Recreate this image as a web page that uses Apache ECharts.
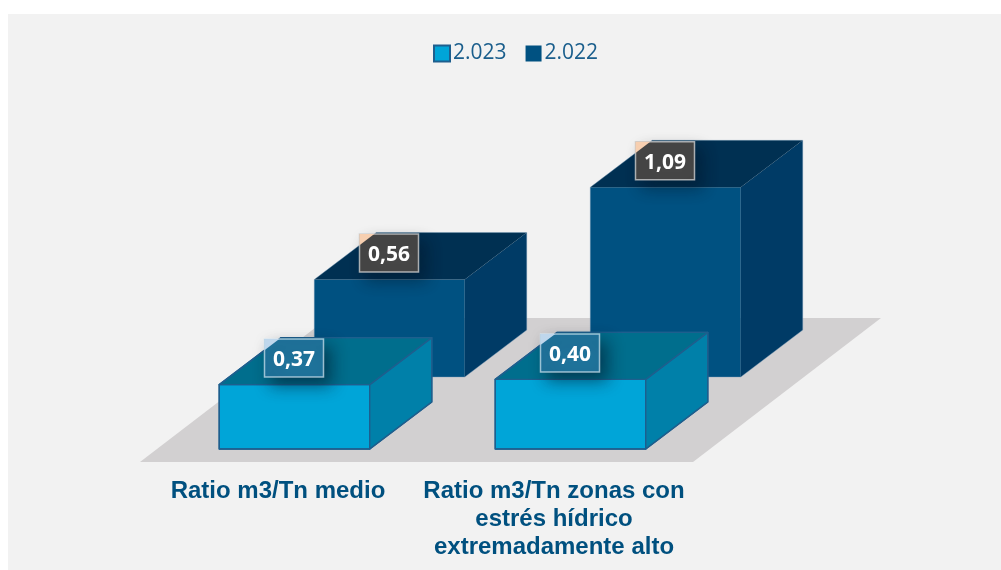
<!DOCTYPE html>
<html>
<head>
<meta charset="utf-8">
<style>html,body{margin:0;padding:0;background:#fff}#chart{width:1001px;height:570px}</style>
<script src="https://cdn.jsdelivr.net/npm/echarts@6/dist/echarts.min.js"></script>
</head>
<body>
<div id="chart"></div>
<script>
const categories = ['Ratio m3/Tn medio', 'Ratio m3/Tn zonas con\nestrés hídrico\nextremadamente alto'];
const seriesNames = ['2.023', '2.022'];
const values2023 = [0.37, 0.40];
const values2022 = [0.56, 1.09];

// Pixel constants of the oblique 3D projection.
const BAR_W = 150.5, DEPTH_X = 62, DEPTH_Y = 47;
const FRONT_SHIFT = { x: 16.5, y: 0 };
const BACK_SHIFT = { x: 111.5, y: -72 };
const BOX_W = 59, BOX_H = 38, BOX_LIFT = 26.5;

const frontTheme = {
  front: '#00A5D8', side: '#0080A9', top: '#006E8D', edge: '#1E5F8E', edgeWidth: 1.4, inner: true,
  box: '#1F739B', boxEdge: 'rgba(214,232,242,0.7)', corner: '#BFD7EC', shadow: 'rgba(0,30,50,0.6)'
};
const backTheme = {
  front: '#005181', side: '#003B66', top: '#003052', edge: 'rgba(120,155,185,0.5)', edgeWidth: 0.8, inner: false,
  box: '#464646', boxEdge: 'rgba(205,205,205,0.8)', corner: '#F7CFB0', shadow: 'rgba(0,15,30,0.4)'
};

function poly(points, fill, stroke, width) {
  return { type: 'polygon', shape: { points }, style: { fill, stroke, lineWidth: width, lineJoin: 'round' } };
}

function boxRenderer(shift, theme) {
  return function (params, api) {
    const base = api.coord([api.value(0), 0]);
    const peak = api.coord([api.value(0), api.value(1)]);
    const l = base[0] + shift.x - BAR_W / 2, r = l + BAR_W;
    const b = base[1] + shift.y, t = peak[1] + shift.y;
    const cx = (l + r) / 2;

    const bx = cx - BOX_W / 2 - 0.5, by = t - BOX_LIFT - BOX_H / 2;
    const rise = t - by;
    // Part of the label box that sticks out past the sloped left edge of the top face.
    const cornerPts = [
      [bx, by],
      [l + rise * DEPTH_X / DEPTH_Y, by],
      [bx, t - (bx - l) * DEPTH_Y / DEPTH_X]
    ];
    const label = api.value(1).toFixed(2).replace('.', ',');
    const innerStroke = theme.inner ? theme.edge : null;
    const innerWidth = theme.inner ? theme.edgeWidth : 0;

    return {
      type: 'group',
      children: [
        poly([[l, b], [r, b], [r, t], [l, t]], theme.front, innerStroke, innerWidth),
        poly([[r, b], [r + DEPTH_X, b - DEPTH_Y], [r + DEPTH_X, t - DEPTH_Y], [r, t]], theme.side, innerStroke, innerWidth),
        poly([[l, t], [r, t], [r + DEPTH_X, t - DEPTH_Y], [l + DEPTH_X, t - DEPTH_Y]], theme.top, innerStroke, innerWidth),
        // Outer silhouette of the box.
        poly([[l, b], [r, b], [r + DEPTH_X, b - DEPTH_Y], [r + DEPTH_X, t - DEPTH_Y], [l + DEPTH_X, t - DEPTH_Y], [l, t]],
          'transparent', theme.edge, theme.edgeWidth),
        {
          type: 'rect',
          shape: { x: bx, y: by, width: BOX_W, height: BOX_H },
          style: { fill: theme.box, stroke: theme.boxEdge, lineWidth: 1.5,
            shadowColor: theme.shadow, shadowBlur: 16, shadowOffsetX: 7, shadowOffsetY: 8 }
        },
        poly(cornerPts, theme.corner, null, 0),
        {
          type: 'text',
          style: { text: label, x: cx - 0.5, y: by + BOX_H / 2 + 2, fill: '#fff', align: 'center', verticalAlign: 'middle',
            font: 'bold 21px "Open Sans"' }
        }
      ]
    };
  };
}

function floorRenderer(params) {
  const c = params.coordSys;
  const y0 = c.y + c.height + 13, y1 = y0 - 144;
  const x0 = c.x, x1 = c.x + c.width + 1, dx = 188;
  return poly([[x0, y0], [x1, y0], [x1 + dx, y1], [x0 + dx, y1]], '#D2D0D1', null, 0);
}

const chart = echarts.init(document.getElementById('chart'), null, { renderer: 'canvas' });
chart.setOption({
  animation: false,
  graphic: [{ type: 'rect', z: -10, silent: true,
    shape: { x: 8, y: 14, width: 993, height: 556 }, style: { fill: '#F2F2F2' } }],
  grid: { left: 140, width: 552, top: 101, height: 348, containLabel: false },
  legend: {
    left: 428, top: 38, itemWidth: 16, itemHeight: 16, itemGap: 19, selectedMode: false,
    textStyle: { fontFamily: 'Open Sans', fontSize: 21, color: '#1A5E8C', padding: [0, 0, 0, -2] },
    data: [
      { name: seriesNames[0], icon: 'rect', itemStyle: { color: '#00A5D8', borderColor: '#1E5F8E', borderWidth: 2 } },
      { name: seriesNames[1], icon: 'rect', itemStyle: { color: '#005181', borderWidth: 0 } }
    ]
  },
  xAxis: {
    type: 'category', data: categories,
    axisLine: { show: false }, axisTick: { show: false },
    axisLabel: { interval: 0, margin: 28, lineHeight: 28, color: '#00507F',
      fontFamily: 'Liberation Sans', fontWeight: 'bold', fontSize: 24 }
  },
  yAxis: { type: 'value', min: 0, max: 2, show: false },
  series: [
    { type: 'custom', name: 'suelo', z: 1, silent: true, data: [[0, 0]], renderItem: floorRenderer, clip: false },
    { type: 'custom', name: seriesNames[1], z: 2, silent: true, clip: false,
      itemStyle: { color: backTheme.front },
      data: values2022.map((v, i) => [i, v]), renderItem: boxRenderer(BACK_SHIFT, backTheme) },
    { type: 'custom', name: seriesNames[0], z: 3, silent: true, clip: false,
      itemStyle: { color: frontTheme.front },
      data: values2023.map((v, i) => [i, v]), renderItem: boxRenderer(FRONT_SHIFT, frontTheme) }
  ]
});
</script>
</body>
</html>
